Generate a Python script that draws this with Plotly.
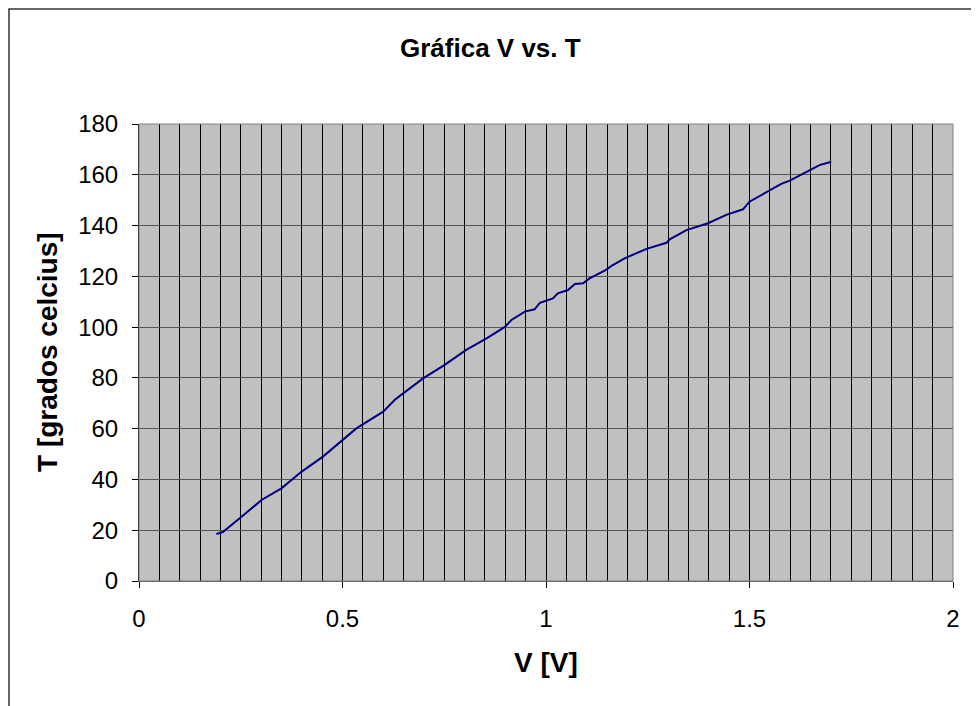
import plotly.graph_objects as go

# Voltage [V]
v_values = [0.190, 0.206, 0.252, 0.301, 0.350, 0.399, 0.452, 0.501, 0.534, 0.600, 0.628,
            0.641, 0.698, 0.751, 0.804, 0.854, 0.899, 0.915, 0.927, 0.948, 0.972, 0.985,
            1.017, 1.029, 1.054, 1.071, 1.091, 1.107, 1.144, 1.161, 1.193, 1.247, 1.296,
            1.304, 1.345, 1.398, 1.443, 1.484, 1.500, 1.542, 1.578, 1.599, 1.648, 1.672, 1.701]
# Temperature [grados celcius]
t_values = [18.5, 19.3, 25.3, 31.9, 36.5, 43.0, 49.0, 55.8, 60.1, 66.7, 71.3,
            72.9, 79.8, 85.1, 91.0, 95.6, 100.1, 102.8, 104.1, 106.1, 107.0, 109.6,
            111.3, 113.3, 114.6, 117.0, 117.3, 119.2, 122.2, 124.1, 127.1, 130.8, 133.2,
            134.6, 138.2, 140.9, 144.2, 146.4, 149.4, 153.3, 156.4, 157.7, 161.9, 163.8, 165.1]

title_text = "Gráfica V vs. T"
x_title = "V [V]"
y_title = "T [grados celcius]"

FONT = "Liberation Sans, Arial, sans-serif"

# page body has an 8px margin; figure coordinates are offset by it
OFF = 8
PL, PR, PT, PB = 139, 953, 124, 581          # plot area in page pixels
W, H = 979 - OFF, 706 - OFF
PW, PH = PR - PL, PB - PT


def px_x(x):
    return (x - PL) / PW


def px_y(y):
    return (PB - y) / PH


fig = go.Figure()
fig.add_trace(go.Scatter(x=v_values, y=t_values, mode="lines",
                         line=dict(color="#000080", width=2), showlegend=False))

fig.update_layout(
    width=W, height=H,
    margin=dict(l=PL - OFF, r=W - (PR - OFF), t=PT - OFF, b=H - (PB - OFF), pad=0),
    paper_bgcolor="white", plot_bgcolor="#C0C0C0",
    font=dict(family=FONT, size=24, color="black"),
    annotations=[
        dict(text="<b>" + title_text + "</b>", xref="paper", yref="paper",
             x=px_x(490), y=px_y(48), xanchor="center", yanchor="middle", showarrow=False,
             font=dict(family=FONT, size=26, color="black")),
        dict(text="<b>" + x_title + "</b>", xref="paper", yref="paper",
             x=0.5, y=px_y(662), xanchor="center", yanchor="middle", showarrow=False,
             font=dict(family=FONT, size=28, color="black")),
        dict(text="<b>" + y_title + "</b>", xref="paper", yref="paper",
             x=px_x(47), y=px_y(352), xanchor="center", yanchor="middle",
             textangle=-90, showarrow=False,
             font=dict(family=FONT, size=28, color="black")),
    ],
    xaxis=dict(range=[0, 2], dtick=0.5, tick0=0, showgrid=True, gridcolor="black", gridwidth=1,
               minor=dict(dtick=0.05, showgrid=True, gridcolor="black", gridwidth=1, ticks=""),
               ticks="outside", ticklen=6, tickcolor="black", ticklabelstandoff=10,
               showline=True, linecolor="#555555", linewidth=1, zeroline=False,
               tickfont=dict(family=FONT, size=24, color="black")),
    yaxis=dict(range=[0, 180], dtick=20, tick0=0, showgrid=True, gridcolor="#555555", gridwidth=1,
               ticks="outside", ticklen=6, tickcolor="black", ticklabelstandoff=9,
               showline=True, linecolor="black", linewidth=1, zeroline=False,
               tickfont=dict(family=FONT, size=24, color="black")),
    shapes=[
        dict(type="rect", xref="paper", yref="paper", x0=0, x1=1, y0=0, y1=1,
             line=dict(color="#808080", width=1), fillcolor="rgba(0,0,0,0)", layer="above"),
        dict(type="rect", xref="paper", yref="paper", x0=px_x(OFF + 1), x1=px_x(976),
             y0=px_y(760), y1=px_y(OFF + 1), line=dict(color="#333333", width=1.5),
             fillcolor="rgba(0,0,0,0)"),
    ],
)

fig.write_html("out.html")
